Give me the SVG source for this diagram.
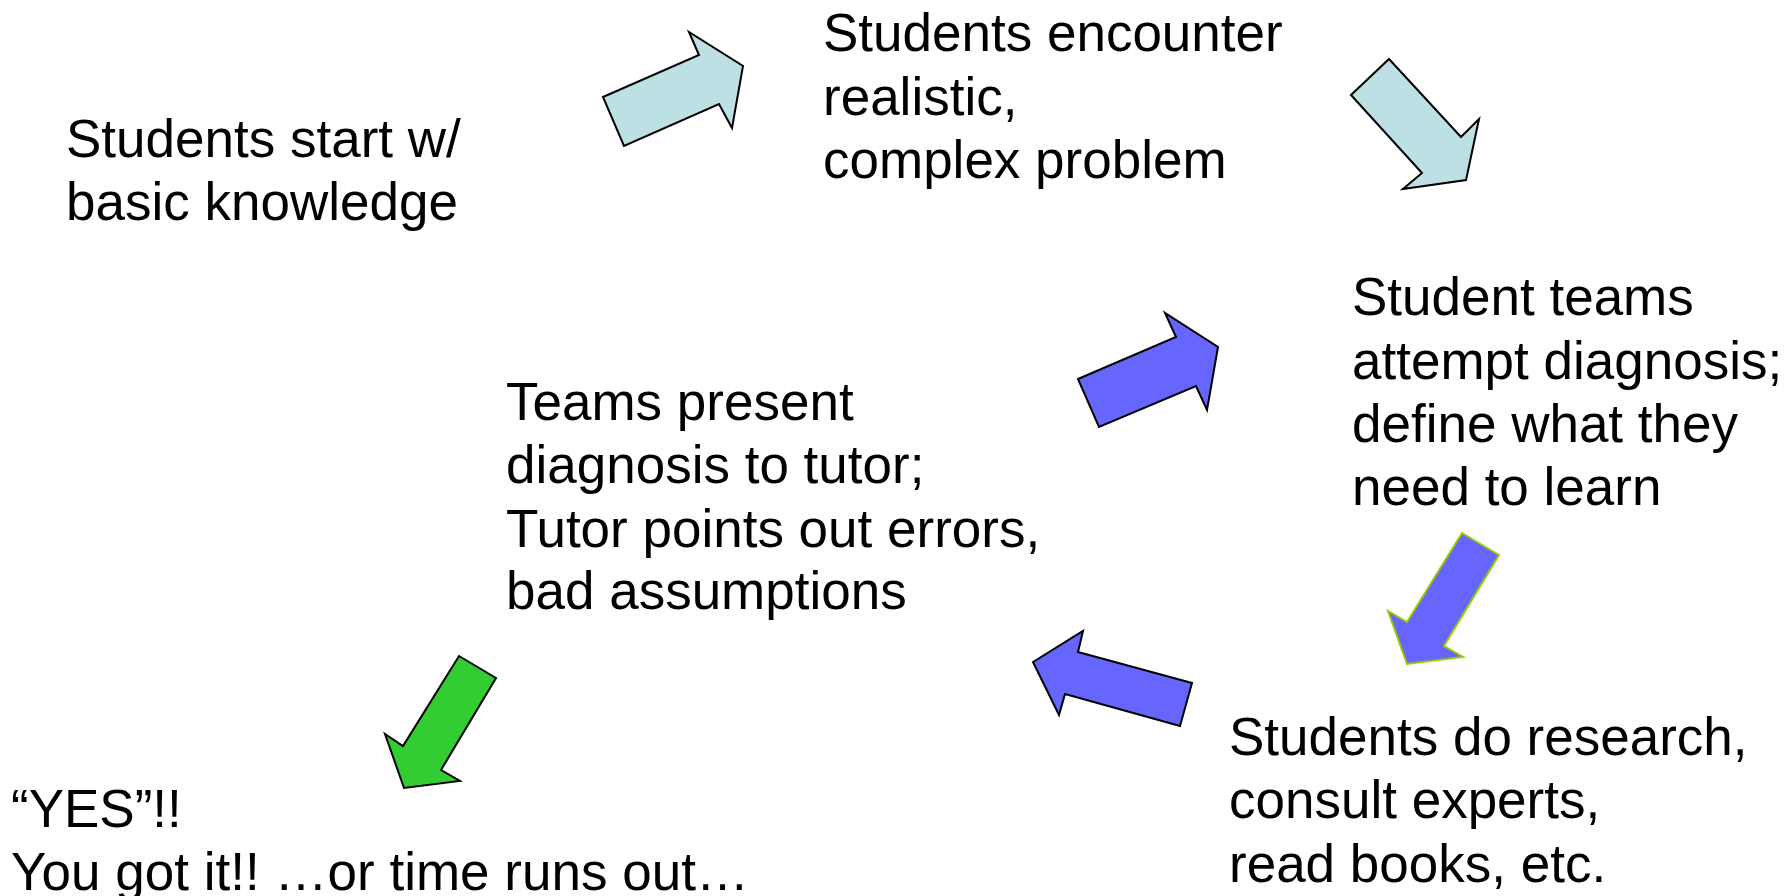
<svg xmlns="http://www.w3.org/2000/svg" width="1792" height="896" viewBox="0 0 1792 896">
  <style>
    .t { font-family: "Liberation Sans", Arial, sans-serif; font-size: 53px; fill: #000; }
    .arrow { stroke: #000; stroke-width: 2; stroke-linejoin: miter; }
    .pale { fill: #BCE0E4; }
    .blue { fill: #6666FF; }
    .green { fill: #33CC33; }
  </style>
  <rect width="1792" height="896" fill="#fff"/>

  <g id="start">
    <text class="t" x="66" y="157">Students start w/</text>
    <text class="t" x="66" y="220">basic knowledge</text>
  </g>

  <g id="encounter">
    <text class="t" x="823" y="51">Students encounter</text>
    <text class="t" x="823" y="115">realistic,</text>
    <text class="t" x="823" y="178">complex problem</text>
  </g>

  <g id="diagnosis">
    <text class="t" x="1352" y="315">Student teams</text>
    <text class="t" x="1352" y="379">attempt diagnosis;</text>
    <text class="t" x="1352" y="442">define what they</text>
    <text class="t" x="1352" y="505">need to learn</text>
  </g>

  <g id="research">
    <text class="t" x="1229" y="755">Students do research,</text>
    <text class="t" x="1229" y="818">consult experts,</text>
    <text class="t" x="1229" y="882">read books, etc.</text>
  </g>

  <g id="present">
    <text class="t" x="506" y="420">Teams present</text>
    <text class="t" x="506" y="483">diagnosis to tutor;</text>
    <text class="t" x="506" y="547">Tutor points out errors,</text>
    <text class="t" x="506" y="609">bad assumptions</text>
  </g>

  <g id="done">
    <text class="t" x="11" y="827">“YES”!!</text>
    <text class="t" x="11" y="890" textLength="738" lengthAdjust="spacing">You got it!! …or time runs out…</text>
  </g>

  <g id="connectors">
    <polygon class="arrow pale" points="603,97 699,55 689,32 743,66 732,128 719,104 624,146"/>
    <polygon class="arrow pale" points="1351,95 1389,59 1461,137 1479,119 1466,180 1403,189 1422,173"/>
    <polygon class="arrow blue" points="1078,379 1176,337 1165,313 1218,347 1207,410 1196,386 1099,427"/>
    <polygon class="arrow blue" style="stroke:#99CC00" points="1462,533 1499,555 1444,646 1463,657 1407,664 1388,611 1407,622"/>
    <polygon class="arrow blue" points="1083,631 1078,652 1192,683 1180,726 1065,694 1059,715 1033,662"/>
    <polygon class="arrow green" points="459,656 496,678 441,770 460,781 404,788 385,734 403,746"/>
  </g>
</svg>
